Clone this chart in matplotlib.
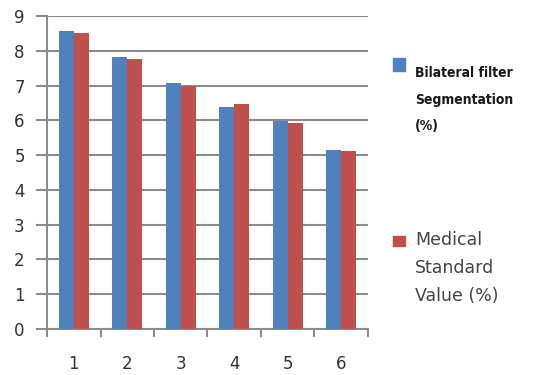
import numpy as np
import matplotlib.pyplot as plt

categories = ['1', '2', '3', '4', '5', '6']
bilateral = [8.56, 7.81, 7.06, 6.37, 5.99, 5.16]
medical = [8.50, 7.75, 6.99, 6.47, 5.91, 5.11]

fig = plt.figure(figsize=(5.37, 3.75), dpi=100)
ax = fig.add_axes([47 / 537, 1 - 329 / 375, 321 / 537, 313 / 375])

x = np.arange(len(categories))
w = 0.28
ax.bar(x - w / 2, bilateral, w, color='#4F81BD', zorder=3)
ax.bar(x + w / 2, medical, w, color='#C0504D', zorder=3)

ax.set_xlim(-0.5, len(categories) - 0.5)
ax.set_ylim(0, 9)
ax.set_yticks(range(0, 10))
ax.yaxis.grid(True, color='#8c8c8c', linewidth=1.5, zorder=0)
ax.set_axisbelow(True)

# category labels sit between the boundary ticks
ax.set_xticks(np.arange(-0.5, len(categories), 1.0))
ax.set_xticklabels([])
ax.set_xticks(x, minor=True)
ax.set_xticklabels(categories, minor=True)
ax.tick_params(axis='x', which='minor', length=0, pad=19, labelsize=12, labelcolor='#333333')
ax.tick_params(axis='x', which='major', length=6, width=1.5, color='#8c8c8c', direction='out')
ax.tick_params(axis='y', length=8, width=1.5, color='#8c8c8c', labelsize=12,
               labelcolor='#333333', pad=8)

for s in ['top', 'right']:
    ax.spines[s].set_visible(False)
for s in ['left', 'bottom']:
    ax.spines[s].set_color('#8c8c8c')
    ax.spines[s].set_linewidth(1.5)

# legend drawn by hand to the right of the axes
fig.patches.append(plt.Rectangle((393 / 537, 1 - 71 / 375), 12 / 537, 13 / 375,
                                 transform=fig.transFigure, color='#4F81BD'))
fig.text(415 / 537, 1 - 66 / 375, 'Bilateral filter\nSegmentation\n(%)',
         fontsize=10, color='#1a1a1a', va='top', ha='left', linespacing=2.15,
         fontweight='semibold', fontstretch='condensed')
fig.patches.append(plt.Rectangle((393 / 537, 1 - 246 / 375), 12 / 537, 10 / 375,
                                 transform=fig.transFigure, color='#C0504D'))
fig.text(415 / 537, 1 - 231 / 375, 'Medical\nStandard\nValue (%)',
         fontsize=12.5, color='#444444', va='top', ha='left', linespacing=1.7)

fig.savefig('out.png', dpi=100)
